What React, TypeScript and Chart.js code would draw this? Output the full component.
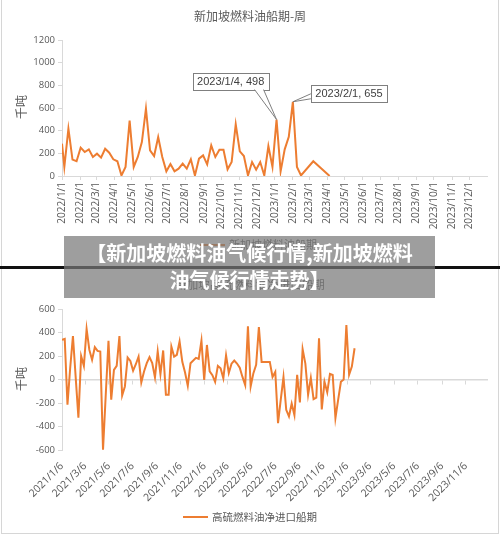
import React, { useEffect, useRef } from "react";
import { Chart, registerables } from "chart.js";

Chart.register(...registerables);

// ---------- text ----------
const TOP_TITLE = "新加坡燃料油船期-周";
const TOP_SERIES = "新加坡燃料油船期";
const BOTTOM_TITLE = "新加坡高硫燃料油净进口船期";
const BOTTOM_SERIES = "高硫燃料油净进口船期";
const Y_UNIT = "千吨";
const BANNER_LINE_1 = "【新加坡燃料油气候行情,新加坡燃料";
const BANNER_LINE_2 = "油气候行情走势】";

// ---------- helpers ----------
const DAY = 86400000;
function parseDay(s: string): number {
  const [y, m, d] = s.split("/").map(Number);
  return Date.UTC(y, m - 1, d) / DAY;
}
function fmtDay(day: number): string {
  const dt = new Date(day * DAY);
  return `${dt.getUTCFullYear()}/${dt.getUTCMonth() + 1}/${dt.getUTCDate()}`;
}
function weeklyDates(start: string, count: number): string[] {
  const s = parseDay(start);
  const out: string[] = [];
  for (let i = 0; i < count; i++) out.push(fmtDay(s + i * 7));
  return out;
}

// ---------- data: top chart ----------
const topTickLabels = [
  "2022/1/1", "2022/2/1", "2022/3/1", "2022/4/1", "2022/5/1", "2022/6/1",
  "2022/7/1", "2022/8/1", "2022/9/1", "2022/10/1", "2022/11/1", "2022/12/1",
  "2023/1/1", "2023/2/1", "2023/3/1", "2023/4/1", "2023/5/1", "2023/6/1",
  "2023/7/1", "2023/8/1", "2023/9/1", "2023/10/1", "2023/11/1", "2023/12/1",
];
const topRange = ["2022/1/1", "2023/12/31"];
const topDates = ["2022/1/1", ...weeklyDates("2022/1/5", 66)];
const topValues: (number | null)[] = [
  285, 80, 418, 145, 130, 250, 212, 235, 168, 197,
  162, 240, 206, 147, 130, 5, 80, 490, 80, 168,
  300, 594, 226, 176, 344, 168, 41, 106, 41, 65,
  109, 65, 147, 5, 153, 182, 103, 270, 168, 232,
  232, 59, 123, 456, 218, 176, 5, 123, 56, 123,
  5, 264, 80, 498, 41, 235, 345, 655, 80, 5,
  null, null, 130, null, null, null, 0,
];
const topCallouts = ["2023/1/4", "2023/2/1"];

// ---------- data: bottom chart ----------
const bottomTickLabels = [
  "2021/1/6", "2021/3/6", "2021/5/6", "2021/7/6", "2021/9/6", "2021/11/6",
  "2022/1/6", "2022/3/6", "2022/5/6", "2022/7/6", "2022/9/6", "2022/11/6",
  "2023/1/6", "2023/3/6", "2023/5/6", "2023/7/6", "2023/9/6", "2023/11/6",
];
const bottomRange = ["2021/1/6", "2023/12/30"];
const bottomDates = weeklyDates("2021/1/6", 108);
const bottomValues: number[] = [
  337, 345, -215, 100, 370, 20, -326, 200, 116, 430,
  252, 167, 275, 243, 238, -597, -130, 330, -172, 82,
  116, 370, -136, -59, 187, 158, 74, 130, 195, -25,
  68, 139, 190, 139, 17, 238, 45, 247, -130, -130,
  280, 195, 210, 323, 150, 60, -54, 139, 161, 184,
  175, 331, -3, 294, 70, 37, -20, 116, 96, 11,
  206, 56, 135, 161, 136, 100, 22, -48, 452, -59,
  54, 125, 447, 150, 150, 150, 150, 22, 65, -371,
  -172, 20, -258, -314, -204, -303, 40, -195, 258, 135,
  -130, 14, -167, -155, 351, -255, -20, -109, 48, 38,
  -328, -172, -20, 0, 464, 40, 110, 266,
];

// ---------- styles ----------
const ORANGE = "#ED7D31";
const AXIS = "#d9d9d9";
const TEXT = "#595959";
const TICK_FONT = { family: "'Open Sans', 'Liberation Sans', sans-serif", size: 9.5 };
const CJK = "'Noto Sans CJK SC', sans-serif";

function drawDecor(ctx: any, title: string, titleSize: number, unitY: number, legend: string, legX: number, legY: number, legSize: number) {
  ctx.save();
  ctx.fillStyle = TEXT;
  ctx.font = `${titleSize}px ${CJK}`;
  ctx.textAlign = "center";
  ctx.textBaseline = "middle";
  ctx.fillText(title, 250, 16);
  // y unit
  ctx.save();
  ctx.translate(21, unitY);
  ctx.rotate(-Math.PI / 2);
  ctx.font = `12px ${CJK}`;
  ctx.fillText(Y_UNIT, 0, 0);
  ctx.restore();
  // legend
  ctx.strokeStyle = ORANGE;
  ctx.lineWidth = 2;
  ctx.beginPath();
  ctx.moveTo(legX, legY);
  ctx.lineTo(legX + 25, legY);
  ctx.stroke();
  ctx.font = `${legSize}px ${CJK}`;
  ctx.textAlign = "left";
  ctx.fillText(legend, legX + 29, legY);
  ctx.restore();
}

const topDecor = {
  id: "topDecor",
  afterDraw(chart: any) {
    const ctx = chart.ctx;
    drawDecor(ctx, TOP_TITLE, 12, 107, TOP_SERIES, 200, 245, 11);
    const meta = chart.getDatasetMeta(0);
    topCallouts.forEach((d, k) => {
      const idx = topDates.indexOf(d);
      const el = meta.data[idx];
      if (!el) return;
      const px = el.x;
      const py = el.y;
      const label = `${d}, ${topValues[idx]}`;
      ctx.save();
      ctx.font = `11px 'Liberation Sans', sans-serif`;
      const w = ctx.measureText(label).width + 9;
      const h = 17;
      let bx: number, by: number, tri: number[][];
      if (k === 0) {
        bx = px - 84;
        by = py - 47;
        tri = [[px - 22, by + h], [px - 13, by + h]];
      } else {
        bx = px + 18;
        by = py - 17;
        tri = [[bx, py - 8], [bx, py - 3]];
      }
      ctx.fillStyle = "#fff";
      ctx.strokeStyle = "#7f7f7f";
      ctx.lineWidth = 1;
      ctx.fillRect(bx, by, w, h);
      ctx.strokeRect(Math.round(bx) + 0.5, Math.round(by) + 0.5, Math.round(w), h);
      ctx.beginPath();
      ctx.moveTo(tri[0][0], tri[0][1]);
      ctx.lineTo(px, py);
      ctx.lineTo(tri[1][0], tri[1][1]);
      ctx.closePath();
      ctx.fill();
      ctx.beginPath();
      ctx.moveTo(tri[0][0], tri[0][1]);
      ctx.lineTo(px, py);
      ctx.lineTo(tri[1][0], tri[1][1]);
      ctx.stroke();
      ctx.fillStyle = "#404040";
      ctx.textAlign = "center";
      ctx.textBaseline = "middle";
      ctx.fillText(label, bx + w / 2, by + h / 2 + 0.5);
      ctx.restore();
    });
  },
};

const bottomDecor = {
  id: "bottomDecor",
  afterDraw(chart: any) {
    drawDecor(chart.ctx, BOTTOM_TITLE, 11.5, 110, BOTTOM_SERIES, 183, 248, 10.5);
  },
};

const plainNumber = (v: any) => String(v);

function TopChart() {
  const ref = useRef<HTMLCanvasElement | null>(null);
  useEffect(() => {
    if (!ref.current) return;
    const tickVals = topTickLabels.map(parseDay);
    const chart = new Chart(ref.current, {
      type: "line",
      data: {
        datasets: [
          {
            label: TOP_SERIES,
            data: topDates.map((d, i) => ({ x: parseDay(d), y: topValues[i] })) as any,
            borderColor: ORANGE,
            borderWidth: 2,
            pointRadius: 0,
            tension: 0,
            spanGaps: true,
            fill: false,
          },
        ],
      },
      options: {
        animation: false,
        responsive: true,
        maintainAspectRatio: false,
        layout: { padding: { left: 0, right: 13, top: 40, bottom: 0 } },
        plugins: { legend: { display: false }, title: { display: false }, tooltip: { enabled: false } },
        scales: {
          x: {
            type: "linear",
            min: parseDay(topRange[0]),
            max: parseDay(topRange[1]),
            afterBuildTicks: (s: any) => {
              s.ticks = tickVals.map((value) => ({ value }));
            },
            afterFit: (s: any) => {
              s.height = 91;
            },
            ticks: {
              autoSkip: false,
              minRotation: 90,
              maxRotation: 90,
              padding: 2,
              color: TEXT,
              font: { family: TICK_FONT.family, size: 10 },
              callback: (_v: any, i: number) => topTickLabels[i],
            },
            grid: { display: true, drawOnChartArea: false, drawTicks: true, tickLength: 4, color: AXIS },
            border: { display: true, color: AXIS, width: 1 },
          },
          y: {
            min: 0,
            max: 1200,
            afterFit: (s: any) => {
              s.width = 62;
            },
            ticks: { stepSize: 200, padding: 3, color: TEXT, font: TICK_FONT, callback: plainNumber },
            grid: { display: true, drawOnChartArea: false, drawTicks: true, tickLength: 4, color: AXIS },
            border: { display: true, color: AXIS, width: 1 },
          },
        },
      } as any,
      plugins: [topDecor],
    });
    return () => chart.destroy();
  }, []);
  return <canvas ref={ref} />;
}

function BottomChart() {
  const ref = useRef<HTMLCanvasElement | null>(null);
  useEffect(() => {
    if (!ref.current) return;
    const tickVals = bottomTickLabels.map(parseDay);
    const min = parseDay(bottomRange[0]);
    const max = parseDay(bottomRange[1]);
    const setTicks = (s: any) => {
      s.ticks = tickVals.map((value) => ({ value }));
    };
    const chart = new Chart(ref.current, {
      type: "line",
      data: {
        datasets: [
          {
            label: BOTTOM_SERIES,
            data: bottomDates.map((d, i) => ({ x: parseDay(d), y: bottomValues[i] })) as any,
            borderColor: ORANGE,
            borderWidth: 2,
            pointRadius: 0,
            tension: 0,
            fill: false,
            xAxisID: "x",
          },
        ],
      },
      options: {
        animation: false,
        responsive: true,
        maintainAspectRatio: false,
        layout: { padding: { left: 0, right: 13, top: 40, bottom: 0 } },
        plugins: { legend: { display: false }, title: { display: false }, tooltip: { enabled: false } },
        scales: {
          x: {
            type: "linear",
            position: "bottom",
            min,
            max,
            afterBuildTicks: setTicks,
            afterFit: (s: any) => {
              s.height = 86;
            },
            ticks: {
              autoSkip: false,
              minRotation: 45,
              maxRotation: 45,
              padding: 10,
              color: TEXT,
              font: { family: TICK_FONT.family, size: 10.5 },
              callback: (_v: any, i: number) => bottomTickLabels[i],
            },
            grid: { display: false, drawTicks: false },
            border: { display: false },
          },
          x0: {
            type: "linear",
            axis: "x",
            position: { y: 0 },
            min,
            max,
            afterBuildTicks: setTicks,
            ticks: { display: false },
            grid: { display: true, drawOnChartArea: false, drawTicks: true, tickLength: 4, color: AXIS },
            border: { display: true, color: AXIS, width: 1.5 },
          },
          y: {
            min: -600,
            max: 600,
            afterFit: (s: any) => {
              s.width = 62;
            },
            ticks: { stepSize: 200, padding: 3, color: TEXT, font: TICK_FONT, callback: plainNumber },
            grid: { display: true, drawOnChartArea: false, drawTicks: true, tickLength: 4, color: AXIS },
            border: { display: true, color: AXIS, width: 1 },
          },
        },
      } as any,
      plugins: [bottomDecor],
    });
    return () => chart.destroy();
  }, []);
  return <canvas ref={ref} />;
}

export default function App() {
  return (
    <div
      style={{
        position: "absolute",
        left: 0,
        top: 0,
        width: 500,
        height: 536,
        background: "#fff",
        overflow: "hidden",
      }}
    >
      <div style={{ position: "absolute", left: 0, top: 0, width: 500, height: 267 }}>
        <TopChart />
      </div>
      <div style={{ position: "absolute", left: 0, top: 269, width: 500, height: 267 }}>
        <BottomChart />
      </div>
      {/* frame */}
      <div
        style={{
          position: "absolute",
          left: 1,
          top: -2,
          width: 496,
          height: 535,
          borderLeft: "1px solid #d6d6d6",
          borderRight: "1px solid #d6d6d6",
          borderBottom: "1px solid #d6d6d6",
          pointerEvents: "none",
        }}
      />
      {/* separator line */}
      <div style={{ position: "absolute", left: 0, top: 266, width: 500, height: 3, background: "#111" }} />
      {/* banner */}
      <div
        style={{
          position: "absolute",
          left: 64,
          top: 236,
          width: 371,
          height: 62,
          background: "rgba(120,120,120,0.72)",
          color: "#fff",
          fontFamily: CJK,
          fontWeight: 700,
          fontSize: 20,
          lineHeight: "27px",
          textAlign: "center",
          paddingTop: 3,
          boxSizing: "border-box",
          whiteSpace: "nowrap",
        }}
      >
        {BANNER_LINE_1}
        <br />
        {BANNER_LINE_2}
      </div>
    </div>
  );
}
